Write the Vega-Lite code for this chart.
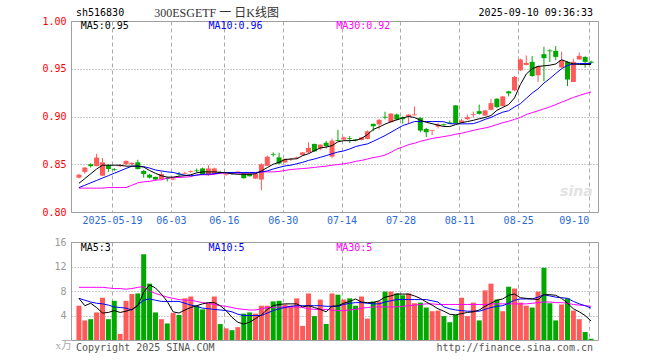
{
"$schema": "https://vega.github.io/schema/vega-lite/v6.json",
"background": "white",
"padding": {"left": 41, "top": 6, "right": 5, "bottom": 5},
"config": {"view": {"stroke": "#a0a0a0", "strokeWidth": 1}, "text": {"font": "DejaVu Sans Mono", "fontSize": 10}},
"datasets": {"one": [{}], "k": [
{"d":0,"t":"2025-05-09","o":0.836,"h":0.840,"l":0.835,"c":0.839,"v":5.6,"m5":0.830,"m10":0.8256,"m30":0.825,"v5":6.8,"v10":6.8,"v30":8.6},
{"d":1,"t":"2025-05-12","o":0.842,"h":0.847,"l":0.840,"c":0.8465,"v":3.2,"m5":0.835,"m10":0.828,"m30":0.825,"v5":5.6,"v10":6.5,"v30":8.6},
{"d":2,"t":"2025-05-13","o":0.850,"h":0.851,"l":0.8465,"c":0.848,"v":3.4,"m5":0.840,"m10":0.8306,"m30":0.825,"v5":6.0,"v10":6.2,"v30":8.6},
{"d":3,"t":"2025-05-14","o":0.848,"h":0.861,"l":0.848,"c":0.857,"v":4.5,"m5":0.845,"m10":0.833,"m30":0.825,"v5":5.3,"v10":6.0,"v30":8.6},
{"d":4,"t":"2025-05-15","o":0.838,"h":0.8565,"l":0.838,"c":0.852,"v":6.9,"m5":0.849,"m10":0.8356,"m30":0.825,"v5":4.4,"v10":5.9,"v30":8.6},
{"d":5,"t":"2025-05-16","o":0.849,"h":0.850,"l":0.842,"c":0.845,"v":3.4,"m5":0.849,"m10":0.838,"m30":0.8256,"v5":4.5,"v10":5.7,"v30":8.5},
{"d":6,"t":"2025-05-19","o":0.8448,"h":0.846,"l":0.843,"c":0.844,"v":6.4,"m5":0.849,"m10":0.8406,"m30":0.8256,"v5":4.8,"v10":5.4,"v30":8.4},
{"d":7,"t":"2025-05-20","o":0.848,"h":0.850,"l":0.847,"c":0.849,"v":1.0,"m5":0.849,"m10":0.843,"m30":0.8256,"v5":4.5,"v10":5.3,"v30":8.4},
{"d":8,"t":"2025-05-21","o":0.850,"h":0.854,"l":0.849,"c":0.8535,"v":6.4,"m5":0.848,"m10":0.8456,"m30":0.8256,"v5":4.7,"v10":5.2,"v30":8.3},
{"d":9,"t":"2025-05-22","o":0.850,"h":0.852,"l":0.849,"c":0.8515,"v":7.5,"m5":0.848,"m10":0.848,"m30":0.828,"v5":5.0,"v10":4.9,"v30":8.4},
{"d":10,"t":"2025-05-23","o":0.852,"h":0.8547,"l":0.8445,"c":0.845,"v":7.6,"m5":0.848,"m10":0.848,"m30":0.8305,"v5":5.6,"v10":5.7,"v30":8.6},
{"d":11,"t":"2025-05-26","o":0.843,"h":0.844,"l":0.836,"c":0.8397,"v":14.0,"m5":0.847,"m10":0.8475,"m30":0.8316,"v5":7.8,"v10":6.5,"v30":8.7},
{"d":12,"t":"2025-05-27","o":0.839,"h":0.840,"l":0.835,"c":0.836,"v":9.2,"m5":0.8435,"m10":0.846,"m30":0.832,"v5":9.0,"v10":6.7,"v30":8.0},
{"d":13,"t":"2025-05-28","o":0.8368,"h":0.837,"l":0.833,"c":0.834,"v":4.5,"m5":0.8405,"m10":0.844,"m30":0.8334,"v5":8.5,"v10":6.5,"v30":7.6},
{"d":14,"t":"2025-05-29","o":0.8344,"h":0.8425,"l":0.834,"c":0.8397,"v":3.4,"m5":0.838,"m10":0.843,"m30":0.8337,"v5":7.5,"v10":6.3,"v30":7.3},
{"d":15,"t":"2025-05-30","o":0.8355,"h":0.837,"l":0.832,"c":0.8345,"v":2.7,"m5":0.8365,"m10":0.842,"m30":0.8355,"v5":6.3,"v10":6.3,"v30":7.0},
{"d":16,"t":"2025-06-03","o":0.834,"h":0.8355,"l":0.8335,"c":0.835,"v":4.4,"m5":0.8365,"m10":0.8414,"m30":0.836,"v5":4.6,"v10":6.3,"v30":6.8},
{"d":17,"t":"2025-06-04","o":0.840,"h":0.842,"l":0.838,"c":0.8392,"v":4.1,"m5":0.8375,"m10":0.840,"m30":0.8361,"v5":4.4,"v10":6.3,"v30":6.6},
{"d":18,"t":"2025-06-05","o":0.8402,"h":0.842,"l":0.8395,"c":0.841,"v":6.8,"m5":0.838,"m10":0.8385,"m30":0.8365,"v5":4.9,"v10":6.0,"v30":6.5},
{"d":19,"t":"2025-06-06","o":0.842,"h":0.8435,"l":0.841,"c":0.8428,"v":7.1,"m5":0.839,"m10":0.838,"m30":0.837,"v5":5.3,"v10":5.7,"v30":6.5},
{"d":20,"t":"2025-06-09","o":0.8435,"h":0.8455,"l":0.8415,"c":0.8427,"v":5.6,"m5":0.841,"m10":0.8385,"m30":0.839,"v5":5.6,"v10":5.5,"v30":6.3},
{"d":21,"t":"2025-06-10","o":0.8456,"h":0.8465,"l":0.839,"c":0.8397,"v":5.0,"m5":0.842,"m10":0.8395,"m30":0.839,"v5":5.9,"v10":5.2,"v30":6.1},
{"d":22,"t":"2025-06-11","o":0.8386,"h":0.849,"l":0.838,"c":0.8456,"v":6.0,"m5":0.842,"m10":0.8397,"m30":0.839,"v5":6.1,"v10":5.1,"v30":6.0},
{"d":23,"t":"2025-06-12","o":0.840,"h":0.8465,"l":0.8395,"c":0.8456,"v":7.1,"m5":0.842,"m10":0.840,"m30":0.8395,"v5":6.1,"v10":5.0,"v30":5.8},
{"d":24,"t":"2025-06-13","o":0.8417,"h":0.843,"l":0.840,"c":0.8408,"v":2.6,"m5":0.8415,"m10":0.841,"m30":0.8405,"v5":5.6,"v10":4.9,"v30":5.6},
{"d":25,"t":"2025-06-16","o":0.8386,"h":0.8397,"l":0.8382,"c":0.8394,"v":1.9,"m5":0.841,"m10":0.8414,"m30":0.8407,"v5":4.8,"v10":4.8,"v30":5.5},
{"d":26,"t":"2025-06-17","o":0.8412,"h":0.842,"l":0.839,"c":0.8404,"v":1.6,"m5":0.840,"m10":0.8414,"m30":0.8407,"v5":3.7,"v10":4.6,"v30":5.3},
{"d":27,"t":"2025-06-18","o":0.8414,"h":0.8425,"l":0.8412,"c":0.8423,"v":2.1,"m5":0.8395,"m10":0.8414,"m30":0.8407,"v5":2.9,"v10":4.2,"v30":5.1},
{"d":28,"t":"2025-06-19","o":0.8407,"h":0.841,"l":0.835,"c":0.8354,"v":4.3,"m5":0.8395,"m10":0.8414,"m30":0.8407,"v5":2.6,"v10":4.0,"v30":5.0},
{"d":29,"t":"2025-06-20","o":0.8404,"h":0.841,"l":0.837,"c":0.8375,"v":4.5,"m5":0.8395,"m10":0.8414,"m30":0.8407,"v5":2.9,"v10":4.0,"v30":4.9},
{"d":30,"t":"2025-06-23","o":0.835,"h":0.841,"l":0.8345,"c":0.8397,"v":4.3,"m5":0.840,"m10":0.8414,"m30":0.8407,"v5":3.5,"v10":4.0,"v30":4.9},
{"d":31,"t":"2025-06-24","o":0.834,"h":0.851,"l":0.823,"c":0.850,"v":5.6,"m5":0.843,"m10":0.842,"m30":0.842,"v5":4.1,"v10":4.0,"v30":5.1},
{"d":32,"t":"2025-06-25","o":0.8484,"h":0.859,"l":0.848,"c":0.8579,"v":5.6,"m5":0.8465,"m10":0.843,"m30":0.842,"v5":5.0,"v10":4.4,"v30":5.3},
{"d":33,"t":"2025-06-26","o":0.8607,"h":0.8625,"l":0.858,"c":0.860,"v":6.3,"m5":0.850,"m10":0.845,"m30":0.842,"v5":5.6,"v10":4.8,"v30":5.3},
{"d":34,"t":"2025-06-27","o":0.8572,"h":0.862,"l":0.850,"c":0.8508,"v":6.4,"m5":0.852,"m10":0.8467,"m30":0.8425,"v5":5.8,"v10":5.1,"v30":5.4},
{"d":35,"t":"2025-06-30","o":0.8519,"h":0.856,"l":0.8515,"c":0.8555,"v":5.8,"m5":0.855,"m10":0.8482,"m30":0.8435,"v5":5.9,"v10":5.3,"v30":5.4},
{"d":36,"t":"2025-07-01","o":0.8548,"h":0.8565,"l":0.8535,"c":0.8556,"v":5.6,"m5":0.8555,"m10":0.849,"m30":0.8445,"v5":5.9,"v10":5.5,"v30":5.4},
{"d":37,"t":"2025-07-02","o":0.8563,"h":0.858,"l":0.8555,"c":0.8572,"v":6.8,"m5":0.8557,"m10":0.8505,"m30":0.845,"v5":5.9,"v10":5.6,"v30":5.4},
{"d":38,"t":"2025-07-03","o":0.8597,"h":0.8628,"l":0.859,"c":0.8624,"v":2.3,"m5":0.859,"m10":0.852,"m30":0.8455,"v5":5.4,"v10":5.6,"v30":5.3},
{"d":39,"t":"2025-07-04","o":0.8624,"h":0.873,"l":0.8615,"c":0.867,"v":7.6,"m5":0.861,"m10":0.854,"m30":0.846,"v5":5.6,"v10":5.6,"v30":5.1},
{"d":40,"t":"2025-07-07","o":0.8713,"h":0.8715,"l":0.863,"c":0.8635,"v":3.9,"m5":0.8642,"m10":0.8555,"m30":0.8467,"v5":5.3,"v10":5.6,"v30":5.0},
{"d":41,"t":"2025-07-08","o":0.8666,"h":0.871,"l":0.8645,"c":0.8705,"v":6.6,"m5":0.867,"m10":0.8572,"m30":0.8474,"v5":5.0,"v10":5.6,"v30":5.0},
{"d":42,"t":"2025-07-09","o":0.8726,"h":0.8745,"l":0.8665,"c":0.869,"v":2.6,"m5":0.868,"m10":0.859,"m30":0.848,"v5":4.6,"v10":5.5,"v30":5.0},
{"d":43,"t":"2025-07-10","o":0.858,"h":0.877,"l":0.8567,"c":0.8747,"v":7.6,"m5":0.8695,"m10":0.861,"m30":0.849,"v5":5.5,"v10":5.5,"v30":4.9},
{"d":44,"t":"2025-07-11","o":0.8753,"h":0.886,"l":0.8743,"c":0.8744,"v":7.4,"m5":0.8735,"m10":0.8628,"m30":0.8497,"v5":5.6,"v10":5.5,"v30":4.8},
{"d":45,"t":"2025-07-14","o":0.8758,"h":0.879,"l":0.8755,"c":0.878,"v":6.6,"m5":0.8747,"m10":0.864,"m30":0.8505,"v5":6.0,"v10":5.8,"v30":4.8},
{"d":46,"t":"2025-07-15","o":0.8774,"h":0.8795,"l":0.8725,"c":0.8766,"v":6.8,"m5":0.8747,"m10":0.866,"m30":0.8515,"v5":6.3,"v10":6.0,"v30":4.9},
{"d":47,"t":"2025-07-16","o":0.8759,"h":0.8765,"l":0.874,"c":0.8751,"v":5.6,"m5":0.875,"m10":0.8685,"m30":0.853,"v5":6.7,"v10":6.1,"v30":5.0},
{"d":48,"t":"2025-07-17","o":0.8755,"h":0.8785,"l":0.875,"c":0.878,"v":7.1,"m5":0.877,"m10":0.870,"m30":0.854,"v5":6.2,"v10":6.1,"v30":5.2},
{"d":49,"t":"2025-07-18","o":0.8765,"h":0.8855,"l":0.876,"c":0.8845,"v":3.5,"m5":0.881,"m10":0.8713,"m30":0.8555,"v5":6.1,"v10":6.0,"v30":5.3},
{"d":50,"t":"2025-07-21","o":0.8923,"h":0.8925,"l":0.8845,"c":0.8898,"v":6.3,"m5":0.8865,"m10":0.874,"m30":0.857,"v5":6.1,"v10":5.9,"v30":5.4},
{"d":51,"t":"2025-07-22","o":0.8916,"h":0.8975,"l":0.8865,"c":0.8965,"v":6.3,"m5":0.889,"m10":0.877,"m30":0.858,"v5":6.4,"v10":5.9,"v30":5.4},
{"d":52,"t":"2025-07-23","o":0.8997,"h":0.905,"l":0.897,"c":0.8989,"v":7.9,"m5":0.892,"m10":0.880,"m30":0.8597,"v5":7.0,"v10":6.2,"v30":5.4},
{"d":53,"t":"2025-07-24","o":0.894,"h":0.9035,"l":0.8935,"c":0.903,"v":7.9,"m5":0.8945,"m10":0.8835,"m30":0.8625,"v5":7.2,"v10":6.4,"v30":5.4},
{"d":54,"t":"2025-07-25","o":0.9021,"h":0.903,"l":0.896,"c":0.8968,"v":7.6,"m5":0.8965,"m10":0.887,"m30":0.866,"v5":7.5,"v10":6.6,"v30":5.4},
{"d":55,"t":"2025-07-28","o":0.8993,"h":0.900,"l":0.8925,"c":0.8972,"v":7.3,"m5":0.8985,"m10":0.8905,"m30":0.868,"v5":7.5,"v10":6.6,"v30":5.5},
{"d":56,"t":"2025-07-29","o":0.900,"h":0.9025,"l":0.8925,"c":0.902,"v":7.6,"m5":0.900,"m10":0.8925,"m30":0.8705,"v5":7.5,"v10":6.6,"v30":5.6},
{"d":57,"t":"2025-07-30","o":0.9013,"h":0.9105,"l":0.901,"c":0.9021,"v":6.0,"m5":0.899,"m10":0.8947,"m30":0.872,"v5":7.2,"v10":6.6,"v30":5.7},
{"d":58,"t":"2025-07-31","o":0.8986,"h":0.899,"l":0.8835,"c":0.8853,"v":6.1,"m5":0.896,"m10":0.8947,"m30":0.874,"v5":6.8,"v10":6.6,"v30":5.8},
{"d":59,"t":"2025-08-01","o":0.887,"h":0.888,"l":0.8785,"c":0.8835,"v":5.3,"m5":0.894,"m10":0.8947,"m30":0.8755,"v5":6.2,"v10":6.6,"v30":5.9},
{"d":60,"t":"2025-08-04","o":0.8848,"h":0.886,"l":0.8805,"c":0.8856,"v":4.7,"m5":0.8925,"m10":0.8947,"m30":0.877,"v5":5.7,"v10":6.4,"v30":5.9},
{"d":61,"t":"2025-08-05","o":0.8895,"h":0.8935,"l":0.8875,"c":0.8916,"v":4.8,"m5":0.891,"m10":0.8947,"m30":0.878,"v5":5.1,"v10":6.2,"v30":5.8},
{"d":62,"t":"2025-08-06","o":0.8919,"h":0.8925,"l":0.890,"c":0.891,"v":3.9,"m5":0.8895,"m10":0.8945,"m30":0.879,"v5":4.7,"v10":5.4,"v30":5.8},
{"d":63,"t":"2025-08-07","o":0.8937,"h":0.8958,"l":0.892,"c":0.8925,"v":2.9,"m5":0.8895,"m10":0.8925,"m30":0.880,"v5":4.2,"v10":5.1,"v30":5.8},
{"d":64,"t":"2025-08-08","o":0.9116,"h":0.912,"l":0.8925,"c":0.893,"v":4.1,"m5":0.8915,"m10":0.8923,"m30":0.8815,"v5":4.1,"v10":4.9,"v30":5.8},
{"d":65,"t":"2025-08-11","o":0.8935,"h":0.8975,"l":0.893,"c":0.8958,"v":6.9,"m5":0.8935,"m10":0.8923,"m30":0.8824,"v5":4.3,"v10":4.8,"v30":5.8},
{"d":66,"t":"2025-08-12","o":0.8972,"h":0.902,"l":0.8965,"c":0.8993,"v":3.9,"m5":0.8947,"m10":0.8923,"m30":0.884,"v5":4.5,"v10":4.7,"v30":5.8},
{"d":67,"t":"2025-08-13","o":0.9016,"h":0.905,"l":0.899,"c":0.9024,"v":6.1,"m5":0.896,"m10":0.8925,"m30":0.8855,"v5":4.6,"v10":4.7,"v30":5.8},
{"d":68,"t":"2025-08-14","o":0.9056,"h":0.9125,"l":0.902,"c":0.9028,"v":3.2,"m5":0.8976,"m10":0.8945,"m30":0.8868,"v5":4.9,"v10":4.7,"v30":5.8},
{"d":69,"t":"2025-08-15","o":0.901,"h":0.907,"l":0.9005,"c":0.9063,"v":8.1,"m5":0.899,"m10":0.897,"m30":0.888,"v5":5.5,"v10":5.0,"v30":5.8},
{"d":70,"t":"2025-08-18","o":0.907,"h":0.9186,"l":0.9065,"c":0.914,"v":9.2,"m5":0.901,"m10":0.899,"m30":0.8895,"v5":6.0,"v10":5.3,"v30":5.9},
{"d":71,"t":"2025-08-19","o":0.9186,"h":0.919,"l":0.909,"c":0.9098,"v":6.6,"m5":0.9065,"m10":0.902,"m30":0.8915,"v5":6.5,"v10":5.5,"v30":5.9},
{"d":72,"t":"2025-08-20","o":0.911,"h":0.9215,"l":0.9105,"c":0.921,"v":4.7,"m5":0.9095,"m10":0.9045,"m30":0.8935,"v5":6.7,"v10":5.6,"v30":5.9},
{"d":73,"t":"2025-08-21","o":0.9263,"h":0.927,"l":0.921,"c":0.9242,"v":8.7,"m5":0.9125,"m10":0.906,"m30":0.895,"v5":7.3,"v10":6.0,"v30":5.9},
{"d":74,"t":"2025-08-22","o":0.9274,"h":0.9425,"l":0.9265,"c":0.9414,"v":8.4,"m5":0.9195,"m10":0.910,"m30":0.897,"v5":7.5,"v10":6.5,"v30":5.9},
{"d":75,"t":"2025-08-25","o":0.9484,"h":0.9605,"l":0.9475,"c":0.9597,"v":6.1,"m5":0.9335,"m10":0.9134,"m30":0.899,"v5":6.9,"v10":6.7,"v30":5.9},
{"d":76,"t":"2025-08-26","o":0.954,"h":0.9639,"l":0.9535,"c":0.9561,"v":5.6,"m5":0.9445,"m10":0.919,"m30":0.9021,"v5":6.8,"v10":6.7,"v30":5.9},
{"d":77,"t":"2025-08-27","o":0.9572,"h":0.9632,"l":0.9415,"c":0.9424,"v":5.3,"m5":0.950,"m10":0.9245,"m30":0.904,"v5":6.7,"v10":6.7,"v30":6.0},
{"d":78,"t":"2025-08-28","o":0.9432,"h":0.953,"l":0.9361,"c":0.9526,"v":7.9,"m5":0.9525,"m10":0.929,"m30":0.906,"v5":6.6,"v10":7.0,"v30":6.1},
{"d":79,"t":"2025-08-29","o":0.9653,"h":0.973,"l":0.937,"c":0.9611,"v":11.8,"m5":0.953,"m10":0.935,"m30":0.908,"v5":7.4,"v10":7.4,"v30":6.2},
{"d":80,"t":"2025-09-01","o":0.9692,"h":0.9705,"l":0.957,"c":0.9683,"v":6.0,"m5":0.9537,"m10":0.9397,"m30":0.910,"v5":7.4,"v10":7.2,"v30":6.2},
{"d":81,"t":"2025-09-02","o":0.9687,"h":0.9737,"l":0.959,"c":0.9624,"v":3.2,"m5":0.955,"m10":0.945,"m30":0.9125,"v5":7.3,"v10":7.0,"v30":6.1},
{"d":82,"t":"2025-09-03","o":0.9513,"h":0.968,"l":0.951,"c":0.959,"v":5.8,"m5":0.9595,"m10":0.950,"m30":0.915,"v5":6.8,"v10":6.9,"v30":6.1},
{"d":83,"t":"2025-09-04","o":0.9572,"h":0.958,"l":0.9318,"c":0.9387,"v":6.8,"m5":0.957,"m10":0.9535,"m30":0.9175,"v5":6.0,"v10":6.8,"v30":6.0},
{"d":84,"t":"2025-09-05","o":0.9361,"h":0.9605,"l":0.936,"c":0.9572,"v":4.8,"m5":0.955,"m10":0.955,"m30":0.920,"v5":5.1,"v10":6.3,"v30":5.8},
{"d":85,"t":"2025-09-08","o":0.9597,"h":0.967,"l":0.9595,"c":0.9635,"v":3.4,"m5":0.9545,"m10":0.9555,"m30":0.922,"v5":4.6,"v10":5.9,"v30":5.7},
{"d":86,"t":"2025-09-09","o":0.9624,"h":0.963,"l":0.951,"c":0.9572,"v":1.3,"m5":0.9545,"m10":0.9555,"m30":0.924,"v5":4.0,"v10":5.6,"v30":5.6},
{"d":87,"t":"2025-09-10","o":0.9574,"h":0.9585,"l":0.955,"c":0.9562,"v":0.2,"m5":0.9545,"m10":0.9555,"m30":0.9256,"v5":3.1,"v10":5.2,"v30":5.5}
]},
"bounds": "flush",
"spacing": 30,
"vconcat": [
{
"width": 527, "height": 191,
"layer": [
{"data": {"name": "k"},
 "mark": {"type": "rule", "strokeWidth": 1},
 "encoding": {
  "x": {"field": "d", "type": "quantitative", "title": null, "scale": {"domain": [-0.5, 87.333], "nice": false, "zero": false},
        "axis": {"values": [5.62,15.62,24.62,34.62,44.62,54.62,64.62,74.62,86.62], "labelExpr": "datum.value < 6 ? '2025-05-19' : datum.value < 16 ? '06-03' : datum.value < 25 ? '06-16' : datum.value < 35 ? '06-30' : datum.value < 45 ? '07-14' : datum.value < 55 ? '07-28' : datum.value < 65 ? '08-11' : datum.value < 75 ? '08-25' : '09-10'",
                 "labelAlign": {"expr": "datum.value > 80 ? 'right' : 'center'"},
                 "grid": true, "gridDash": [4,3], "gridColor": "#aaaaaa", "ticks": false, "domain": false, "labelColor": "#2a6ad8", "labelFont": "DejaVu Sans Mono", "labelFontSize": 10, "labelPadding": 3, "labelDx": -2, "labelOverlap": false, "labelBound": false, "labelFlush": false}},
  "y": {"field": "l", "type": "quantitative", "title": null, "scale": {"domain": [0.8, 1.0], "nice": false, "zero": false},
        "axis": {"values": [0.8,0.85,0.9,0.95,1.0], "format": ".2f", "grid": true, "gridDash": [1,2], "gridColor": "#999999", "ticks": false, "domain": false, "labelColor": "#ff0000", "labelFont": "DejaVu Sans Mono", "labelFontSize": 10, "labelPadding": 5, "labelOverlap": false}},
  "y2": {"field": "h"},
  "color": {"condition": {"test": "datum.c >= datum.o", "value": "#ff5a5a"}, "value": "#00a800"}
 }},
{"data": {"name": "k"},
 "mark": {"type": "bar", "size": 5, "orient": "vertical"},
 "encoding": {
  "x": {"field": "d", "type": "quantitative", "title": null},
  "y": {"field": "o", "type": "quantitative", "title": null},
  "y2": {"field": "c"},
  "color": {"condition": {"test": "datum.c >= datum.o", "value": "#ff5a5a"}, "value": "#00a800"}
 }},
{"data": {"name": "k"}, "mark": {"type": "line", "color": "#ff00ff", "strokeWidth": 1}, "encoding": {"x": {"field": "d", "type": "quantitative", "title": null}, "y": {"field": "m30", "type": "quantitative", "title": null}}},
{"data": {"name": "k"}, "mark": {"type": "line", "color": "#0000ff", "strokeWidth": 1}, "encoding": {"x": {"field": "d", "type": "quantitative", "title": null}, "y": {"field": "m10", "type": "quantitative", "title": null}}},
{"data": {"name": "k"}, "mark": {"type": "line", "color": "#000000", "strokeWidth": 1}, "encoding": {"x": {"field": "d", "type": "quantitative", "title": null}, "y": {"field": "m5", "type": "quantitative", "title": null}}},
{"data": {"name": "one"}, "mark": {"type": "text", "text": "MA5:0.95", "align": "left", "color": "#000000"}, "encoding": {"x": {"datum": 0.3}, "y": {"datum": 0.9945}}},
{"data": {"name": "one"}, "mark": {"type": "text", "text": "MA10:0.96", "align": "left", "color": "#0000ff"}, "encoding": {"x": {"datum": 22}, "y": {"datum": 0.9945}}},
{"data": {"name": "one"}, "mark": {"type": "text", "text": "MA30:0.92", "align": "left", "color": "#ff00ff"}, "encoding": {"x": {"datum": 43.7}, "y": {"datum": 0.9945}}},
{"data": {"name": "one"}, "mark": {"type": "text", "text": "sh516830", "align": "left", "color": "#000000"}, "encoding": {"x": {"datum": -0.5}, "y": {"datum": 1.0084}}},
{"data": {"name": "one"}, "mark": {"type": "text", "text": "300ESGETF 一 日K线图", "align": "left", "color": "#333333", "font": "Liberation Serif, Noto Sans CJK SC", "fontSize": 12}, "encoding": {"x": {"datum": 12.8}, "y": {"datum": 1.0084}}},
{"data": {"name": "one"}, "mark": {"type": "text", "text": "2025-09-10 09:36:33", "align": "right", "color": "#000000"}, "encoding": {"x": {"datum": 87.33}, "y": {"datum": 1.0084}}},
{"data": {"name": "one"}, "mark": {"type": "text", "text": "sina", "align": "center", "color": "#e2e2e2", "font": "DejaVu Sans", "fontSize": 14, "fontWeight": "bold", "fontStyle": "italic"}, "encoding": {"x": {"datum": 84.5}, "y": {"datum": 0.8205}}}
]
},
{
"width": 527, "height": 98,
"encoding": {
  "x": {"type": "quantitative", "title": null, "scale": {"domain": [-0.5, 87.333], "nice": false, "zero": false},
        "axis": {"values": [5.62,15.62,24.62,34.62,44.62,54.62,64.62,74.62,86.62], "labels": false, "grid": true, "gridDash": [4,3], "gridColor": "#aaaaaa", "ticks": false, "domain": false}},
  "y": {"type": "quantitative", "title": null, "scale": {"domain": [0, 16], "nice": false, "zero": false},
        "axis": {"values": [4,8,12,16], "grid": true, "gridDash": [1,2], "gridColor": "#999999", "ticks": false, "domain": false, "labelColor": "#999999", "labelFont": "DejaVu Sans Mono", "labelFontSize": 10, "labelPadding": 5, "labelOverlap": false, "labelFlush": false, "labelBound": false}}
},
"layer": [
{"data": {"name": "k"},
 "mark": {"type": "bar", "size": 5},
 "encoding": {
  "x": {"field": "d"},
  "y": {"field": "v"},
  "color": {"condition": {"test": "datum.c >= datum.o", "value": "#ff5a5a"}, "value": "#00a800"}
 }},
{"data": {"name": "k"}, "mark": {"type": "line", "color": "#ff00ff", "strokeWidth": 1}, "encoding": {"x": {"field": "d"}, "y": {"field": "v30"}}},
{"data": {"name": "k"}, "mark": {"type": "line", "color": "#0000ff", "strokeWidth": 1}, "encoding": {"x": {"field": "d"}, "y": {"field": "v10"}}},
{"data": {"name": "k"}, "mark": {"type": "line", "color": "#000000", "strokeWidth": 1}, "encoding": {"x": {"field": "d"}, "y": {"field": "v5"}}},
{"data": {"name": "one"}, "mark": {"type": "text", "text": "MA5:3", "align": "left", "color": "#000000"}, "encoding": {"x": {"datum": 0.3}, "y": {"datum": 15.0}}},
{"data": {"name": "one"}, "mark": {"type": "text", "text": "MA10:5", "align": "left", "color": "#0000ff"}, "encoding": {"x": {"datum": 22}, "y": {"datum": 15.0}}},
{"data": {"name": "one"}, "mark": {"type": "text", "text": "MA30:5", "align": "left", "color": "#ff00ff"}, "encoding": {"x": {"datum": 43.7}, "y": {"datum": 15.0}}},
{"data": {"name": "one"}, "mark": {"type": "text", "text": "x万", "align": "right", "color": "#aaaaaa", "font": "Liberation Serif, Noto Sans CJK SC", "fontSize": 11}, "encoding": {"x": {"datum": -1.2}, "y": {"datum": -1.0}}},
{"data": {"name": "one"}, "mark": {"type": "text", "text": "Copyright 2025 SINA.COM", "align": "left", "color": "#555555"}, "encoding": {"x": {"datum": -0.5}, "y": {"datum": -1.35}}},
{"data": {"name": "one"}, "mark": {"type": "text", "text": "http://finance.sina.com.cn", "align": "right", "color": "#555555"}, "encoding": {"x": {"datum": 87.33}, "y": {"datum": -1.35}}}
]
}
]
}
